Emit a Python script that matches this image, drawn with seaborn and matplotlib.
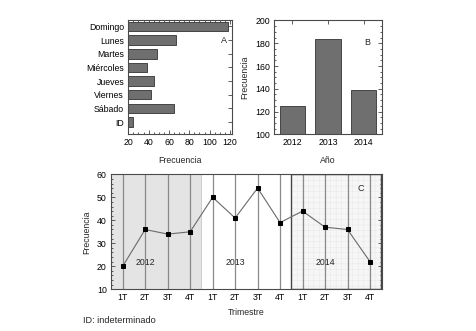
import numpy as np
import pandas as pd
import matplotlib
matplotlib.use("Agg")
import matplotlib.pyplot as plt
import seaborn as sns
from matplotlib.ticker import MultipleLocator
from matplotlib.patches import Rectangle

# datos
dias = ["Domingo", "Lunes", "Martes", "Miércoles", "Jueves", "Viernes", "Sábado", "ID"]
frec_dias = [118, 67, 48, 38, 45, 42, 65, 25]

anios = ["2012", "2013", "2014"]
frec_anios = [125, 184, 139]

trimestres = ["1T", "2T", "3T", "4T"] * 3
frec_trim = [20, 36, 34, 35, 50, 41, 54, 39, 44, 37, 36, 22]

sns.set_style("ticks")
plt.rcParams["font.family"] = ["Liberation Sans", "DejaVu Sans"]
plt.rcParams["font.size"] = 6.3
plt.rcParams["axes.edgecolor"] = "#4a4a4a"
plt.rcParams["axes.linewidth"] = 0.8
plt.rcParams["hatch.linewidth"] = 0.3

bar_col = "#6f6f6f"
edge_col = "#333333"

fig = plt.figure(figsize=(4.76, 3.31), dpi=100)
ax1 = fig.add_axes([0.2696, 0.5943, 0.2178, 0.3438])
ax2 = fig.add_axes([0.5763, 0.5943, 0.2256, 0.3438])
ax3 = fig.add_axes([0.2332, 0.1260, 0.5687, 0.3474])


def style_ticks(ax):
    ax.tick_params(which="both", direction="in", top=True, right=True,
                   colors="#444444", labelcolor="black", labelsize=6.3, width=0.6)
    ax.tick_params(which="major", length=3, pad=3)
    ax.tick_params(which="minor", length=1.5)


# A: frecuencia por dia
df_d = pd.DataFrame({"dia": dias, "frec": frec_dias})
sns.barplot(data=df_d, x="frec", y="dia", orient="h", color=bar_col,
            edgecolor=edge_col, linewidth=0.6, width=0.7, saturation=1, ax=ax1)
ax1.set_xlim(20, 122)
ax1.set_ylim(7.9, -0.44)
ax1.xaxis.set_major_locator(MultipleLocator(20))
ax1.xaxis.set_minor_locator(MultipleLocator(5))
ax1.set_xlabel("Frecuencia", fontsize=6.3, labelpad=6)
ax1.set_ylabel("")
style_ticks(ax1)
ax1.text(0.92, 0.82, "A", transform=ax1.transAxes, ha="center", va="center", fontsize=6.5)

# B: frecuencia por año
df_a = pd.DataFrame({"anio": anios, "frec": frec_anios})
sns.barplot(data=df_a, x="anio", y="frec", color=bar_col, edgecolor=edge_col,
            linewidth=0.6, width=0.7, saturation=1, ax=ax2)
ax2.set_ylim(100, 200)
ax2.set_xlim(-0.5, 2.5)
ax2.yaxis.set_major_locator(MultipleLocator(20))
ax2.yaxis.set_minor_locator(MultipleLocator(5))
ax2.set_xlabel("Año", fontsize=6.3, labelpad=6)
ax2.set_ylabel("Frecuencia", fontsize=6.3, labelpad=4)
style_ticks(ax2)
ax2.text(0.87, 0.81, "B", transform=ax2.transAxes, ha="center", va="center", fontsize=6.5)

# C: frecuencia por trimestre
x = np.arange(len(frec_trim))
ax3.axvspan(-0.5, 3.5, color="#e4e4e4", lw=0, zorder=0)
ax3.axvspan(7.5, 11.5, facecolor="#f6f6f6", hatch="+++", edgecolor="#e6e6e6", lw=0, zorder=0)
ax3.add_patch(Rectangle((7.5, 10), 4, 50, fill=False, edgecolor="#444444", lw=1.0, zorder=3))
for xi in x:
    ax3.axvline(xi, color="#8a8a8a", lw=0.9, zorder=1)
ax3.axvline(3.5, color="#c4c4c4", lw=0.6, zorder=1)
sns.lineplot(x=x, y=frec_trim, color="#6a6a6a", lw=0.8, marker="s", markersize=2.6,
             markerfacecolor="black", markeredgecolor="black", ax=ax3, zorder=4)
ax3.set_xlim(-0.52, 11.52)
ax3.set_ylim(10, 60)
ax3.set_xticks(x)
ax3.set_xticklabels(trimestres)
ax3.yaxis.set_major_locator(MultipleLocator(10))
ax3.yaxis.set_minor_locator(MultipleLocator(2))
ax3.set_xlabel("Trimestre", fontsize=6.3, labelpad=4)
ax3.set_ylabel("Frecuencia", fontsize=6.3, labelpad=4)
style_ticks(ax3)
ax3.tick_params(axis="x", which="both", top=False, length=0)
for xi, a in zip([1, 5, 9], anios):
    ax3.text(xi, 21.5, a, ha="center", va="center", fontsize=6.3, zorder=5)
ax3.text(10.6, 54, "C", ha="center", va="center", fontsize=6.5, zorder=5)

fig.text(0.174, 0.033, "ID: indeterminado", fontsize=6.6, ha="left", va="center")

fig.savefig("out.png", dpi=100)
